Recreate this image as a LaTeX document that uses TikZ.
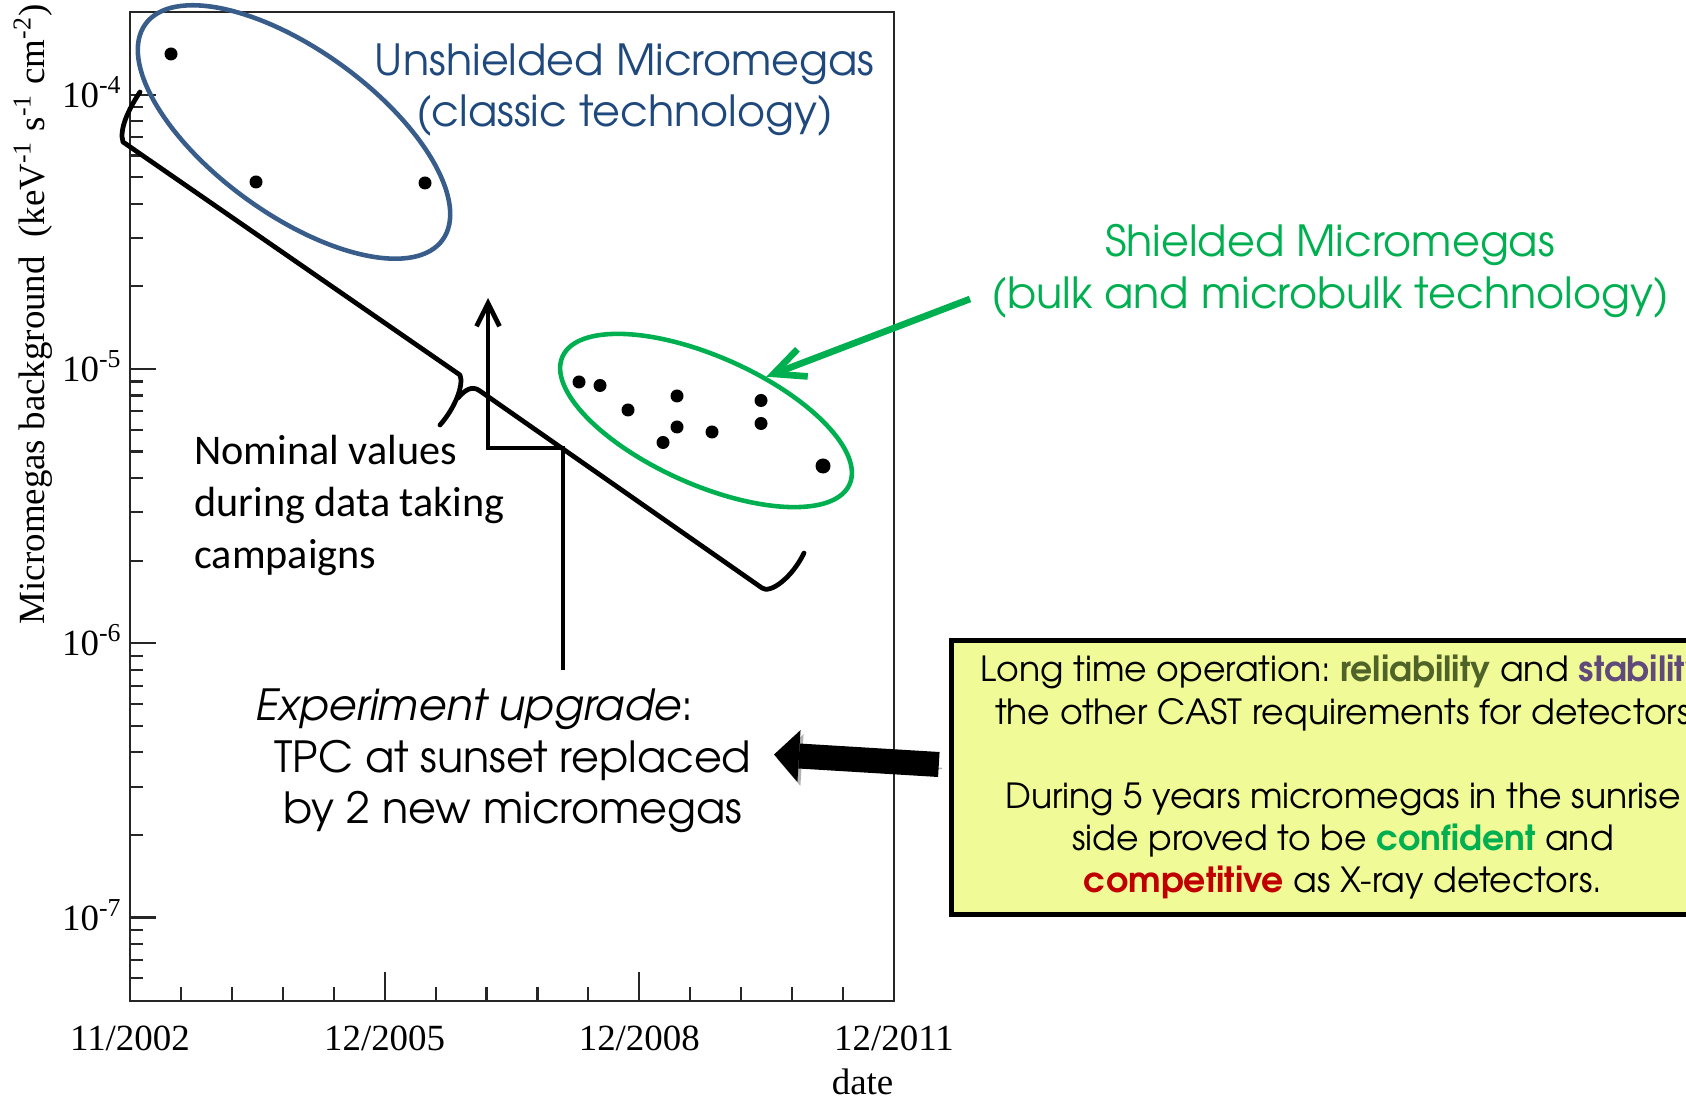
\documentclass[tikz,border=0pt]{standalone}
\usepackage{fontspec}
\setmainfont{Liberation Serif}
\newfontfamily\gothic{TeX Gyre Adventor}
\newfontfamily\calibri{Carlito}
\usetikzlibrary{shapes.geometric,arrows.meta}

\definecolor{unshblue}{RGB}{56,93,138}
\definecolor{unshtext}{RGB}{31,73,125}
\definecolor{shldgreen}{RGB}{0,176,80}
\definecolor{reliab}{RGB}{79,98,40}
\definecolor{stabil}{RGB}{96,74,123}
\definecolor{compet}{RGB}{192,0,0}
\definecolor{boxyellow}{RGB}{240,250,150}
\frenchspacing

\begin{document}
\begin{tikzpicture}[x=0.01cm,y=-0.01cm]
\tikzstyle{dot}=[circle, fill=black, inner sep=0pt, minimum size=0.13cm]
\tikzstyle{axis}=[line width=0.6pt, black!85]
\tikzstyle{tick}=[font=\fontsize{10.5}{12}\selectfont, inner sep=0pt]
\tikzstyle{slide}=[font=\gothic\fontsize{12.2}{14.7}\selectfont, inner sep=0pt, align=center]
\tikzstyle{hand}=[line width=1.35pt, line join=round, line cap=round]
\tikzstyle{group}=[ellipse, line width=1.3pt, inner sep=0pt]

\useasboundingbox (0,0) rectangle (1686,1101);
\clip (0,0) rectangle (1686,1101);

\draw[axis] (130,12) rectangle (894,1001);
\foreach \k in {1,...,14} \draw[axis] (130+\k*50.93,1001) -- ++(0,-14.3);
\foreach \k in {5,10} \draw[axis] (130+\k*50.93,1001) -- ++(0,-28.7);
\foreach \d in {0,...,3} \draw[axis] (130,94.6+\d*274.3) -- ++(26,0);
\foreach \d in {1,2,3} \foreach \m in {2,...,9} \draw[axis] (130,{94.6+\d*274.3-274.3*log10(\m)}) -- ++(12.6,0);
\foreach \m in {6,...,9} \draw[axis] (130,{1191.8-274.3*log10(\m)}) -- ++(12.6,0);

\node (ym4) at (123,107.1) [tick, anchor=base east] {10\textsuperscript{-4}};
\node (ym5) at (123,381.4) [tick, anchor=base east] {10\textsuperscript{-5}};
\node (ym6) at (123,655.7) [tick, anchor=base east] {10\textsuperscript{-6}};
\node (ym7) at (123,930) [tick, anchor=base east] {10\textsuperscript{-7}};
\node (x02) at (130,1038) [tick] {11/2002};
\node (x05) at (384.6,1038) [tick] {12/2005};
\node (x08) at (639.3,1038) [tick] {12/2008};
\node (x11) at (894,1038) [tick] {12/2011};
\node (xdate) at (894,1082) [tick, anchor=east] {date};
\node (ylab) at (33,314) [tick, rotate=90] {Micromegas background\ \ (keV\textsuperscript{-1} s\textsuperscript{-1} cm\textsuperscript{-2})};

\node (unsh) at (294,132) [group, draw=unshblue, minimum width=3.67cm, minimum height=1.64cm, rotate=-36] {};
\node (shld) at (706,420.5) [group, draw=shldgreen, minimum width=3.14cm, minimum height=1.28cm, rotate=-24] {};

\node (u1) at (171,54) [dot] {};
\node (u2) at (256,182) [dot] {};
\node (u3) at (425,183) [dot] {};
\node (s1) at (579,382) [dot] {};
\node (s2) at (600,385.5) [dot] {};
\node (s3) at (628,410) [dot] {};
\node (s4) at (677,396) [dot] {};
\node (s5) at (677,427) [dot] {};
\node (s6) at (663,442.5) [dot] {};
\node (s7) at (712,432) [dot] {};
\node (s8) at (761,400.5) [dot] {};
\node (s9) at (761,423.5) [dot] {};
\node (s10) at (823,466) [dot, minimum size=0.15cm] {};

\draw[hand] (140,92) .. controls (128,110) and (119,130) .. (123,142) -- (460,375) .. controls (464,385) and (455,408) .. (440,425);
\draw[hand] (458,398) .. controls (465,390) and (472,385) .. (480,391) -- (762,588) .. controls (770,594) and (792,578) .. (804,553);

\node (unshtxt) at (624.6,90) [slide, text=unshtext] {Unshielded Micromegas\\(classic technology)};
\node (shldtxt) at (1330,271) [slide, text=shldgreen] {Shielded Micromegas\\(bulk and microbulk technology)};
\node (nom) at (193.6,505.4) [anchor=west, align=left, inner sep=0pt, font=\calibri\fontsize{12}{14.7}\selectfont] {Nominal values\\during data taking\\campaigns};
\node (upg) at (255,761) [slide, anchor=west, align=left] {\textit{Experiment upgrade}:\\\hspace*{0.19cm}TPC at sunset replaced\\\hspace*{0.28cm}by 2 new micromegas};

\node (box) at (1343,777.5) [draw, line width=1.4pt, fill=boxyellow, minimum width=7.83cm, minimum height=2.73cm, align=center, font=\gothic\fontsize{9.85}{12}\selectfont] {Long time operation: \textbf{\textcolor{reliab}{reliability}} and \textbf{\textcolor{stabil}{stability}}\\the other CAST requirements for detectors\\[12pt]During 5 years micromegas in the sunrise\\side proved to be \textbf{\textcolor{shldgreen}{confident}} and\\\textbf{\textcolor{compet}{competitive}} as X-ray detectors.};

\coordinate (upgtop) at (563,670);
\coordinate (bend) at (488,448);
\coordinate (uptip) at (488,298);
\draw[hand, line join=miter, line cap=butt, -{Straight Barb[length=2.3mm,width=2.3mm]}] (upgtop) |- (bend) -- (uptip);

\coordinate (gstart) at (970,299);
\draw[shldgreen, line width=1.9pt, -{Straight Barb[length=3.1mm,width=2.9mm]}] (gstart) -- (shld.60);

\coordinate (fattip) at (774,754.5);
\draw[line width=2.5mm, -{Triangle[length=2.5mm,width=5.2mm,line width=0pt]}, preaction={draw=black!30, transform canvas={shift={(3,4)}}}] ([shift={(-10,-13)}]box.west) -- (fattip);
\end{tikzpicture}
\end{document}
